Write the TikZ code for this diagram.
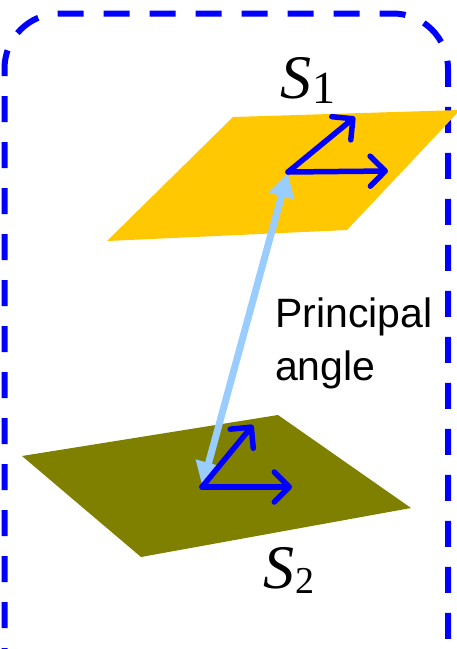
\documentclass[tikz,border=0pt]{standalone}
\usepackage{fontspec}
\setmainfont{Liberation Serif}
\newfontfamily\arialf{Liberation Sans}
\usetikzlibrary{arrows.meta}
\definecolor{planeyellow}{HTML}{FFC800}
\definecolor{planeolive}{HTML}{808000}
\definecolor{vecblue}{HTML}{0000FF}
\definecolor{anglightblue}{HTML}{99CCFF}
\tikzset{
  dashbox/.style={draw=vecblue, line width=6pt, dash pattern=on 26pt off 20pt, rounded corners=55pt},
  basisvec/.style={draw=vecblue, line width=5.5pt, line cap=round, line join=round,
    -{Straight Barb[length=15pt, width=30pt, line width=5.5pt, round]}},
  anglearrow/.style={draw=anglightblue, line width=7pt,
    {Triangle[length=24pt, width=25pt]}-{Triangle[length=24pt, width=25pt]}, shorten <=1pt, shorten >=1pt},
  planelabel/.style={anchor=base west, inner sep=0pt},
}
\begin{document}
\begin{tikzpicture}[x=1pt,y=-1pt]
\useasboundingbox (0,0) rectangle (457,649);
\begin{scope}
\clip (0,0) rectangle (457,649);
% bounding dashed box
\draw[dashbox] (4.5,720) -- (4.5,13.5) -- (448,13.5) -- (448,720);
% planes
\fill[planeyellow] (107,241) -- (347,230) -- (460,110) -- (233,117) -- cycle;
\fill[planeolive] (22,456) -- (278,415) -- (411,508) -- (141,557) -- cycle;
\end{scope}
% origins and basis vectors
\coordinate (o1) at (288,172);
\coordinate (u1) at (355,117);
\coordinate (v1) at (388,171);
\coordinate (o2) at (202,487);
\coordinate (u2) at (253,425);
\coordinate (v2) at (292,487);
\draw[anglearrow] (o2) -- (o1);
\draw[basisvec] (o1) -- (u1);
\draw[basisvec] (o1) -- (v1);
\draw[basisvec] (o2) -- (u2);
\draw[basisvec] (o2) -- (v2);
% labels
\node[planelabel] (s1) at (280,98) {\fontsize{62}{62}\selectfont\itshape S\kern1pt\raisebox{-5pt}{\upshape\fontsize{46}{46}\selectfont 1}};
\node[planelabel] (s2) at (263,588) {\fontsize{62}{62}\selectfont\itshape S\kern1pt\raisebox{-5pt}{\upshape\fontsize{38}{38}\selectfont 2}};
\node[anchor=base west, inner sep=0pt, align=left, font=\arialf\fontsize{41}{53}\selectfont] (pa) at (275,380) {Principal\\angle};
\end{tikzpicture}
\end{document}
